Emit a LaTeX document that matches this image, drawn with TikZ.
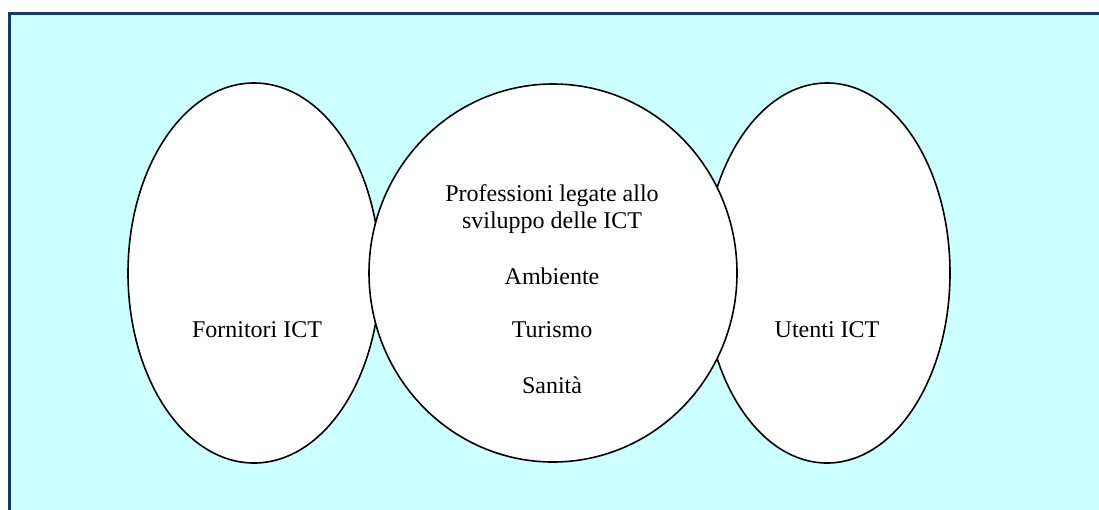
\documentclass[tikz,border=0pt]{standalone}
\usepackage{fontspec}
\setmainfont{Liberation Serif}
\usetikzlibrary{shapes.geometric}

\definecolor{bgcyan}{RGB}{204,255,255}
\definecolor{framenavy}{RGB}{18,58,112}

\begin{document}
\begin{tikzpicture}[x=1pt,y=-1pt,line cap=round,
  blob/.style={ellipse,draw,line width=1.6pt,fill=white,inner sep=0pt},
  words/.style={font=\fontsize{24}{27.5}\selectfont,align=center}]
  \useasboundingbox (0,0) rectangle (1099,509);
  \clip (0,0) rectangle (1099,509);
  \draw[framenavy,line width=3pt,fill=bgcyan] (9.5,13) rectangle (1120,530);

  % outer groups first, the middle one lies over them
  \node[blob,minimum width=252pt,minimum height=380pt] (fornitori) at (254,273) {};
  \node[blob,minimum width=246pt,minimum height=380pt] (utenti) at (827,273) {};
  \node[blob,minimum width=368pt,minimum height=378pt] (professioni) at (553,273) {};

  \node[words] (fornitoriT) at (257,330) {Fornitori ICT};
  \node[words] (utentiT) at (827,330) {Utenti ICT};
  \node[words] (professioniT) at (552,209) {Professioni legate allo\\sviluppo delle ICT};
  \node[words] (ambiente) at (552,276) {Ambiente};
  \node[words] (turismo) at (552,330) {Turismo};
  \node[words] (sanita) at (552,385) {Sanità};
\end{tikzpicture}
\end{document}
